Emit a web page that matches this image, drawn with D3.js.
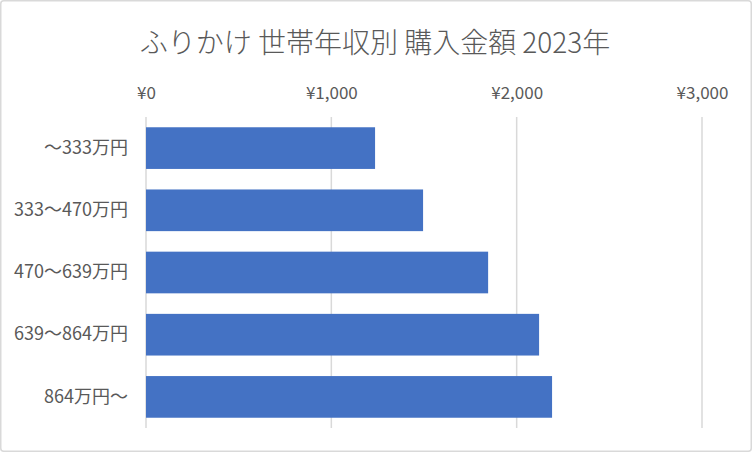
<!DOCTYPE html>
<html><head><meta charset="utf-8">
<script src="https://cdn.jsdelivr.net/npm/d3@7"></script>
<style>
html,body{margin:0;padding:0;background:#fff;}
svg{display:block;}
</style></head>
<body>
<svg id="chart" width="752" height="452"></svg>
<script>
const title = "ふりかけ 世帯年収別 購入金額 2023年";
const categories = ["〜333万円","333〜470万円","470〜639万円","639〜864万円","864万円〜"];
const values = [1236, 1495, 1846, 2121, 2191];
const tickValues = [0, 1000, 2000, 3000];
const tickLabels = ["¥0","¥1,000","¥2,000","¥3,000"];

(function(){
const svg = d3.select("#chart");
const W = 752, H = 452;
const font = "'Noto Sans CJK JP', 'Noto Sans', sans-serif";
svg.append("rect").attr("x",0.75).attr("y",0.75).attr("width",W-1.5).attr("height",H-1.5)
  .attr("rx",3).attr("fill","#fff").attr("stroke","#d9d9d9").attr("stroke-width",1.5);

const pL = 146, pR = 702, pT = 117, pB = 428;
const x = d3.scaleLinear().domain([0,3000]).range([pL,pR]);
const y = d3.scaleBand().domain(categories).range([pT,pB]).paddingInner(0.33).paddingOuter(0.165);

svg.append("text").attr("x",375).attr("y",53).attr("text-anchor","middle")
  .attr("font-family",font).attr("font-size",28).attr("font-weight",300).attr("fill","#595959").text(title);

const grid = svg.append("g");
grid.selectAll("line").data(tickValues).join("line")
  .attr("x1",d=>x(d)).attr("x2",d=>x(d)).attr("y1",pT).attr("y2",pB)
  .attr("stroke","#d9d9d9").attr("stroke-width",1.5);

const xAxis = d3.axisTop(x).tickValues(tickValues).tickFormat((d,i)=>tickLabels[i]).tickSize(0).tickPadding(0);
const gx = svg.append("g").attr("transform",`translate(0,99)`).call(xAxis);
gx.select(".domain").remove();
gx.selectAll("text").attr("font-family",font).attr("font-size",17).attr("fill","#595959");

svg.append("g").selectAll("rect").data(values).join("rect")
  .attr("x",x(0)).attr("y",(d,i)=>y(categories[i]))
  .attr("width",d=>x(d)-x(0)).attr("height",y.bandwidth()).attr("fill","#4472C4");

const yAxis = d3.axisLeft(y).tickSize(0).tickPadding(0);
const gy = svg.append("g").attr("transform",`translate(128,0)`).call(yAxis);
gy.select(".domain").remove();
gy.selectAll("text").attr("font-family",font).attr("font-size",18).attr("fill","#595959");
})();
</script>
</body></html>
